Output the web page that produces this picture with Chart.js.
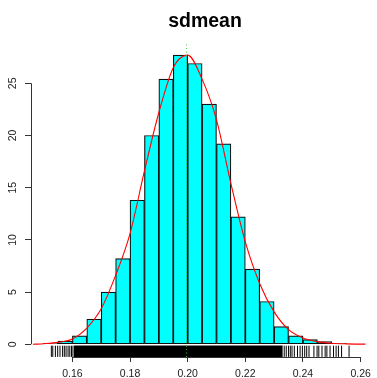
<!DOCTYPE html>
<html>
<head>
<meta charset="utf-8">
<script src="https://cdn.jsdelivr.net/npm/chart.js@4/dist/chart.umd.min.js"></script>
<style>
  body { margin: 0; background: #fff; }
  canvas { display: block; }
</style>
</head>
<body>
<canvas id="hist" width="377" height="378"></canvas>
<script>
// histogram of sdmean, bin width 0.005 (density scale)
const binStarts = [0.150, 0.155, 0.160, 0.165, 0.170, 0.175, 0.180, 0.185, 0.190, 0.195,
                   0.200, 0.205, 0.210, 0.215, 0.220, 0.225, 0.230, 0.235, 0.240, 0.245, 0.250];
const binDensity = [0.1, 0.3, 0.8, 2.4, 5.0, 8.2, 13.8, 20.0, 25.4, 27.7,
                    26.9, 23.0, 19.2, 12.2, 7.2, 4.1, 1.7, 0.8, 0.45, 0.25, 0.1];
const binWidth = 0.005;

// kernel density estimate
const kdeX = [0.1463, 0.150, 0.155, 0.160, 0.165, 0.170, 0.175, 0.180, 0.185, 0.190, 0.195,
              0.200, 0.205, 0.210, 0.215, 0.220, 0.225, 0.230, 0.235, 0.240, 0.245, 0.250, 0.255, 0.2617];
const kdeY = [0.0, 0.05, 0.18, 0.5, 1.55, 3.4, 6.6, 10.6, 16.6, 22.2, 26.5,
              27.7, 25.4, 21.5, 15.4, 9.8, 5.8, 3.1, 1.4, 0.6, 0.25, 0.1, 0.04, 0.01];

const meanValue = 0.1996;

// rug: isolated observations in the tails, plus the solid run in between
const rugValues = [0.1527, 0.1532, 0.1541, 0.1549, 0.1557, 0.1566, 0.1572, 0.1578, 0.1585,
                   0.1591, 0.1597, 0.1602,
                   0.2335, 0.2342, 0.2350, 0.2356, 0.2362, 0.2370, 0.2381, 0.2390, 0.2398,
                   0.2406, 0.2413, 0.2421, 0.2438, 0.2449, 0.2455, 0.2466, 0.2477, 0.2483,
                   0.2494, 0.2506, 0.2515, 0.2523, 0.2534, 0.2560];
const rugDenseFrom = 0.1605;
const rugDenseTo = 0.2330;

const xTicks = [0.16, 0.18, 0.20, 0.22, 0.24, 0.26];
const yTicks = [0, 5, 10, 15, 20, 25];

const xMin = 0.14564, xMax = 0.26312;
const yMin = -1.22, yMax = 28.86;
const rugTop = -0.13;

const fontFamily = "'Liberation Sans', Arial, Helvetica, sans-serif";
const tickFontSize = 10.5;

const bars = binStarts.map((s, i) => ({ x: s + binWidth / 2, y: binDensity[i] }));
const kde = kdeX.map((x, i) => ({ x: x, y: kdeY[i] }));
const rugMid = (rugTop + yMin) / 2;
const rug = rugValues.map(v => ({ x: v, y: rugMid }));

// R-style axes: line only spans first..last tick, title over plot, rotated y labels
const rAxes = {
  id: 'rAxes',
  afterDraw(chart) {
    const ctx = chart.ctx;
    const xs = chart.scales.x, ys = chart.scales.y;
    const area = chart.chartArea;
    ctx.save();
    ctx.strokeStyle = '#333';
    ctx.lineWidth = 1;
    ctx.beginPath();
    const by = Math.round(area.bottom) + 0.5;
    ctx.moveTo(xs.getPixelForValue(xTicks[0]), by);
    ctx.lineTo(xs.getPixelForValue(xTicks[xTicks.length - 1]), by);
    const lx = Math.round(area.left) + 0.5;
    ctx.moveTo(lx, ys.getPixelForValue(yTicks[0]));
    ctx.lineTo(lx, ys.getPixelForValue(yTicks[yTicks.length - 1]));
    ctx.stroke();

    ctx.fillStyle = '#222';
    ctx.font = tickFontSize + 'px ' + fontFamily;
    ctx.textAlign = 'center';
    ctx.textBaseline = 'middle';
    yTicks.forEach(v => {
      ctx.save();
      ctx.translate(13.5, ys.getPixelForValue(v));
      ctx.rotate(-Math.PI / 2);
      ctx.fillText(String(v), 0, 0);
      ctx.restore();
    });

    ctx.fillStyle = '#000';
    ctx.font = 'bold 19.5px ' + fontFamily;
    ctx.textBaseline = 'alphabetic';
    ctx.fillText('sdmean', 205, 26.7);
    ctx.restore();
  }
};

new Chart(document.getElementById('hist'), {
  type: 'bar',
  data: {
    datasets: [
      {
        type: 'line',
        data: [{ x: meanValue, y: yMin }, { x: meanValue, y: yMax }],
        borderColor: 'rgba(60, 200, 60, 0.9)',
        borderWidth: 1,
        borderDash: [1, 2.5],
        pointRadius: 0,
        order: 0
      },
      {
        type: 'line',
        data: kde,
        borderColor: '#ff0000',
        borderWidth: 1.1,
        cubicInterpolationMode: 'monotone',
        pointRadius: 0,
        order: 1
      },
      {
        type: 'scatter',
        data: rug,
        showLine: false,
        pointStyle: 'line',
        pointRotation: 90,
        pointRadius: 5.6,
        pointBorderWidth: 1,
        pointBorderColor: '#000',
        order: 2
      },
      {
        type: 'line',
        data: [{ x: rugDenseFrom, y: rugTop }, { x: rugDenseTo, y: rugTop }],
        borderWidth: 0,
        pointRadius: 0,
        backgroundColor: '#000',
        fill: { value: yMin },
        order: 3
      },
      {
        type: 'bar',
        data: bars,
        backgroundColor: '#00ffff',
        borderColor: '#111',
        borderWidth: 1.2,
        borderSkipped: false,
        barPercentage: 1,
        categoryPercentage: 1,
        order: 4
      }
    ]
  },
  options: {
    responsive: false,
    animation: false,
    devicePixelRatio: 1,
    layout: { padding: { left: 0, right: 0, top: 43, bottom: 0 } },
    plugins: {
      legend: { display: false },
      tooltip: { enabled: false },
      title: { display: false }
    },
    scales: {
      x: {
        type: 'linear',
        min: xMin,
        max: xMax,
        offset: false,
        afterFit: s => { s.height = 21; },
        afterBuildTicks: s => { s.ticks = xTicks.map(v => ({ value: v })); },
        grid: { drawOnChartArea: false, offset: false, tickLength: 5, color: '#333' },
        border: { display: false },
        ticks: {
          padding: 6,
          color: '#222',
          font: { family: fontFamily, size: tickFontSize },
          callback: v => v.toFixed(2),
          maxRotation: 0,
          autoSkip: false
        }
      },
      y: {
        type: 'linear',
        min: yMin,
        max: yMax,
        afterFit: s => { s.width = 31; },
        afterBuildTicks: s => { s.ticks = yTicks.map(v => ({ value: v })); },
        grid: { drawOnChartArea: false, tickLength: 6, color: '#333' },
        border: { display: false },
        ticks: { display: false }
      }
    }
  },
  plugins: [rAxes]
});
</script>
</body>
</html>
